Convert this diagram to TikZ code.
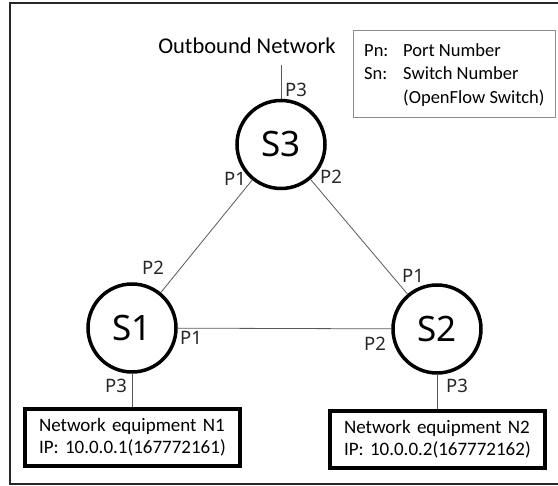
\documentclass[tikz,border=0pt]{standalone}
\usepackage{fontspec}
\setmainfont{Carlito}
\newfontfamily\swfont{Noto Sans}
\frenchspacing
\begin{document}
\begin{tikzpicture}[x=1pt,y=-1pt,
  switch/.style={circle, draw=black, line width=3.5pt, minimum size=88pt,
    inner sep=0pt, font=\swfont\fontsize{35}{40}\selectfont},
  port/.style={inner sep=0pt, font=\swfont\fontsize{18.5}{20}\selectfont, text=black!85},
  link/.style={draw=black!65, line width=0.8pt},
  equip/.style={draw=black, line width=4pt, rectangle, align=left,
    text width=187pt, inner xsep=14pt, inner ysep=0pt,
    minimum width=215pt, minimum height=57pt,
    font=\fontsize{19}{21.6}\selectfont},
  legendtxt/.style={inner sep=0pt, anchor=base west,
    font=\fontsize{18.5}{21}\selectfont}]

\useasboundingbox (0,0) rectangle (558,486);

% outer frame
\draw[line width=2.5pt, draw=black!85] (10,3) rectangle (566,484);

% legend
\node[draw=black!45, line width=1pt, minimum width=202pt, minimum height=87pt,
  inner sep=0pt] (legend) at (454,74.5) {};
\node[legendtxt] (pn)  at (364,56.5) {Pn:};
\node[legendtxt] (pnt) at (403,56.5) {Port Number};
\node[legendtxt] (sn)  at (364,80) {Sn:};
\node[legendtxt] (snt) at (403,80) {Switch Number};
\node[legendtxt] (oft) at (403,103.5) {(OpenFlow Switch)};

% outbound network
\node[anchor=base, inner sep=0pt, font=\fontsize{22.5}{24}\selectfont]
  (out) at (247,53.3) {Outbound Network};
\coordinate (ob) at (281,65);

% switches
\node[switch] (S3) at (281,144.5) {S3};
\node[switch] (S1) at (132,328) {S1};
\node[switch] (S2) at (437,329) {S2};

% network equipment
\node[equip] (N1) at (132.5,437.5) {Network equipment N1\\IP: 10.0.0.1(167772161)};
\node[equip] (N2) at (437.5,439.5) {Network equipment N2\\IP: 10.0.0.2(167772162)};

% links
\draw[link] (S3) -- (ob);
\draw[link] (S3) -- (S1);
\draw[link] (S3) -- (S2);
\draw[link] (S1) -- (S2);
\draw[link] (S1.south) -- (S1.south |- N1.north);
\draw[link] (S2.south) -- (S2.south |- N2.north);

% port labels
\node[port] (s3p3) at (296,90) {P3};
\node[port] (s3p1) at (235,179) {P1};
\node[port] (s3p2) at (331,177) {P2};
\node[port] (s1p2) at (153,268) {P2};
\node[port] (s1p1) at (191,338) {P1};
\node[port] (s1p3) at (116,386) {P3};
\node[port] (s2p1) at (413,276) {P1};
\node[port] (s2p2) at (375,344) {P2};
\node[port] (s2p3) at (457,386) {P3};
\end{tikzpicture}
\end{document}
